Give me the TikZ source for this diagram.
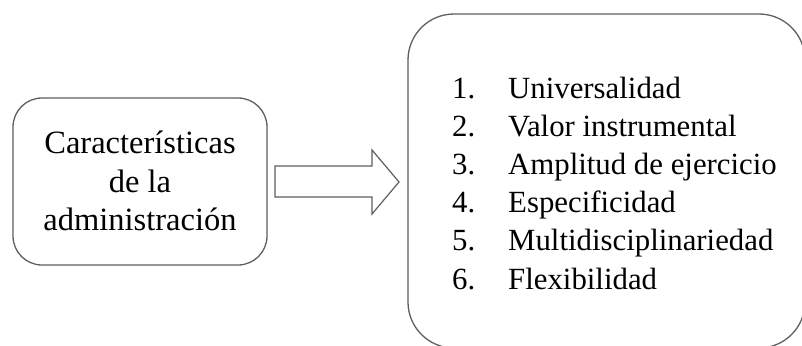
\documentclass[tikz,border=0pt]{standalone}
\usepackage{fontspec}
\setmainfont{Liberation Serif}
\usepackage{array}
\begin{document}
\begin{tikzpicture}[x=1pt,y=-1pt,
  boxline/.style={draw={rgb,255:red,95;green,95;blue,95}, line width=1.3pt},
  lefttext/.style={font=\fontsize{32.5}{38.8}\selectfont, align=center, inner sep=0pt}]
\useasboundingbox (0,0) rectangle (802,345);
\fill[white] (0,0) rectangle (802,345);
% left box
\draw[boxline, rounded corners=29pt] (13,98) rectangle (267,265);
\coordinate (lbE) at (267,181.5);
\node[lefttext] (ltxt) at (140,181) {Características\\de la\\administración};
% right box
\draw[boxline, rounded corners=46pt] (408,14) rectangle (805,348);
\coordinate (rbW) at (408,182);
% block arrow
\coordinate (a1) at (275,166);
\coordinate (a2) at (372,166);
\coordinate (a3) at (372,150);
\coordinate (a4) at (399,182);
\coordinate (a5) at (372,214);
\coordinate (a6) at (372,197);
\coordinate (a7) at (275,197);
\draw[boxline, line width=1.2pt, line join=miter] (a1) -- (a2) -- (a3) -- (a4) -- (a5) -- (a6) -- (a7) -- cycle;
% list
\node[anchor=base west, inner sep=0pt, font=\fontsize{30.8}{38.2}\selectfont] (list) at (452,98) {%
\begin{tabular}[t]{@{}p{56pt}@{}l@{}}
1. & Universalidad\\
2. & Valor instrumental\\
3. & Amplitud de ejercicio\\
4. & Especificidad\\
5. & Multidisciplinariedad\\
6. & Flexibilidad
\end{tabular}};
\end{tikzpicture}
\end{document}
